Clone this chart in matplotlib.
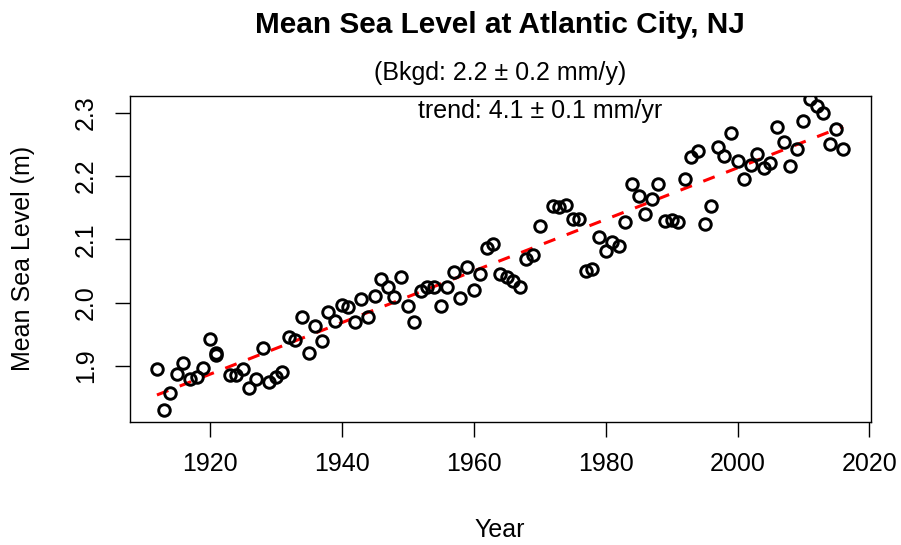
import numpy as np
import matplotlib.pyplot as plt

plt.rcParams['font.family'] = ['Liberation Sans', 'DejaVu Sans']

# annual mean sea level, Atlantic City
years = [1912, 1913, 1914, 1915, 1916, 1917, 1918, 1919, 1920, 1921, 1921,
         1923, 1924, 1925, 1926, 1927, 1928, 1929, 1930, 1931, 1932, 1933,
         1934, 1935, 1936, 1937, 1938, 1939, 1940, 1941, 1942, 1943, 1944,
         1945, 1946, 1947, 1948, 1949, 1950, 1951, 1952, 1953, 1954, 1955,
         1956, 1957, 1958, 1959, 1960, 1961, 1962, 1963, 1964, 1965, 1966,
         1967, 1968, 1969, 1970, 1972, 1973, 1974, 1975, 1976, 1977, 1978,
         1979, 1980, 1981, 1982, 1983, 1984, 1985, 1986, 1987, 1988, 1989,
         1990, 1991, 1992, 1993, 1994, 1995, 1996, 1997, 1998, 1999, 2000,
         2001, 2002, 2003, 2004, 2005, 2006, 2007, 2008, 2009, 2010, 2011,
         2012, 2013, 2014, 2015, 2016]
msl = [1.895, 1.830, 1.857, 1.888, 1.905, 1.880, 1.882, 1.897, 1.942, 1.921, 1.918,
       1.886, 1.886, 1.896, 1.866, 1.880, 1.929, 1.875, 1.882, 1.891, 1.946, 1.941,
       1.978, 1.921, 1.963, 1.939, 1.986, 1.971, 1.996, 1.993, 1.970, 2.005, 1.977,
       2.010, 2.037, 2.024, 2.009, 2.040, 1.994, 1.970, 2.019, 2.024, 2.024, 1.994,
       2.024, 2.049, 2.007, 2.056, 2.020, 2.046, 2.086, 2.093, 2.045, 2.040, 2.035,
       2.024, 2.069, 2.075, 2.121, 2.153, 2.151, 2.154, 2.132, 2.132, 2.050, 2.053,
       2.104, 2.082, 2.096, 2.089, 2.127, 2.187, 2.169, 2.140, 2.163, 2.187, 2.129,
       2.130, 2.128, 2.195, 2.230, 2.240, 2.125, 2.153, 2.246, 2.232, 2.268, 2.223,
       2.196, 2.217, 2.235, 2.213, 2.220, 2.277, 2.253, 2.216, 2.242, 2.287, 2.321,
       2.311, 2.299, 2.251, 2.275, 2.243]

xticks = [1920, 1940, 1960, 1980, 2000, 2020]
yticks = [1.9, 2.0, 2.1, 2.2, 2.3]


def main():
    x = np.array(years, dtype=float)
    y = np.array(msl)
    coef = np.polyfit(x, y, 1)

    W, H = 901, 545
    fig = plt.figure(figsize=(W / 100, H / 100), dpi=100)
    L, R, T, B = 129.5, 870.5, 96, 421.7
    ax = fig.add_axes([L / W, 1 - B / H, (R - L) / W, (B - T) / H])

    ax.plot(x, y, 'o', ms=8.3, mfc='none', mec='black', mew=2.1, zorder=3)
    xs = np.array([x.min(), x.max()])
    ax.plot(xs, np.polyval(coef, xs), color='red', lw=2.2,
            linestyle=(0, (4, 4)), zorder=2)

    ax.set_xlim(1907.84, 2020.16)
    ax.set_ylim(1.812, 2.3264)
    ax.set_xticks(xticks)
    ax.set_yticks(yticks)
    ax.set_yticklabels(['%.1f' % v for v in yticks], rotation=90, va='center')
    ax.tick_params(axis='both', direction='out', length=10.8, width=1.0,
                   labelsize=18, colors='black')
    ax.tick_params(axis='x', pad=11)
    ax.tick_params(axis='y', pad=12)
    for s in ax.spines.values():
        s.set_linewidth(1.0)

    ax.text((540 - L) / (R - L), 1 - (111 - T) / (B - T),
            'trend: 4.1 ± 0.1 mm/yr', transform=ax.transAxes,
            ha='center', va='center', fontsize=18)

    cx = (L + R) / 2 / W
    fig.text(cx, 1 - 25 / H, 'Mean Sea Level at Atlantic City, NJ',
             ha='center', va='center', fontsize=21.4, fontweight='bold')
    fig.text(cx, 1 - 73 / H, '(Bkgd: 2.2 ± 0.2 mm/y)',
             ha='center', va='center', fontsize=18)
    fig.text(cx, 1 - 530 / H, 'Year', ha='center', va='center', fontsize=18)
    fig.text(23 / W, 1 - (T + B) / 2 / H, 'Mean Sea Level (m)', rotation=90,
             ha='center', va='center', fontsize=18)

    plt.savefig('out.png', dpi=100)


if __name__ == "__main__":
    main()
